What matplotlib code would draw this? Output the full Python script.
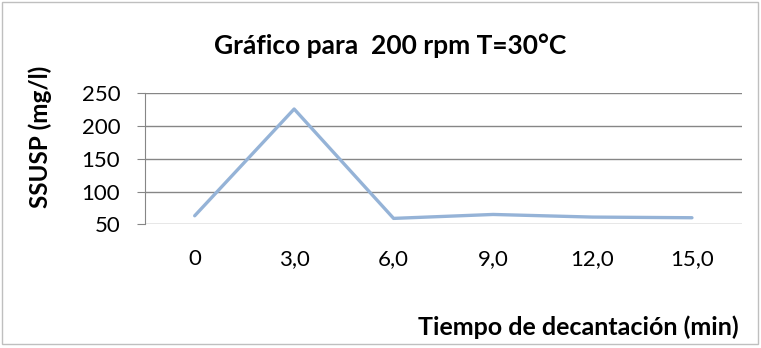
import matplotlib
matplotlib.use('Agg')
import matplotlib.pyplot as plt
from matplotlib.patches import Rectangle

plt.rcParams['font.family'] = ['Lato', 'DejaVu Sans']

# datos
categorias = ['0', '3,0', '6,0', '9,0', '12,0', '15,0']
ssusp = [63, 226, 59, 65, 61, 60]
yticks = [50, 100, 150, 200, 250]

fig = plt.figure(figsize=(7.61, 3.48), dpi=100)
ax = fig.add_axes([0.1905, 0.3555, 0.7841, 0.3764])

x = list(range(len(categorias)))
ax.plot(x, ssusp, color='#95B3D7', linewidth=2.4, solid_capstyle='round')

ax.set_xlim(-0.5, len(categorias) - 0.5)
ax.set_ylim(50, 250)
ax.set_yticks(yticks)
ax.set_xticks(x)
ax.set_xticklabels(categorias)

ax.grid(axis='y', color='#868686', linewidth=1)
ax.set_axisbelow(True)
for s in ['top', 'right', 'bottom']:
    ax.spines[s].set_visible(False)
ax.spines['left'].set_color('#868686')
ax.tick_params(axis='x', length=0, labelsize=16, pad=18)
ax.tick_params(axis='y', length=5.8, color='#868686', labelsize=16, pad=12)

fig.text(0.512, 0.87, 'Gráfico para  200 rpm T=30°C', ha='center', va='center',
         fontsize=19, fontweight='bold')
fig.text(0.053, 0.608, 'SSUSP (mg/l)', rotation=90, ha='center', va='center',
         fontsize=17.5, fontweight='bold')
fig.text(0.97, 0.06, 'Tiempo de decantación (min)', ha='right', va='center',
         fontsize=18, fontweight='bold')

# marco del grafico
fig.patches.append(Rectangle((0.002, 0.012), 0.994, 0.982, transform=fig.transFigure,
                             fill=False, edgecolor='#BFBFBF', linewidth=1))

fig.savefig('out.png', dpi=100)
